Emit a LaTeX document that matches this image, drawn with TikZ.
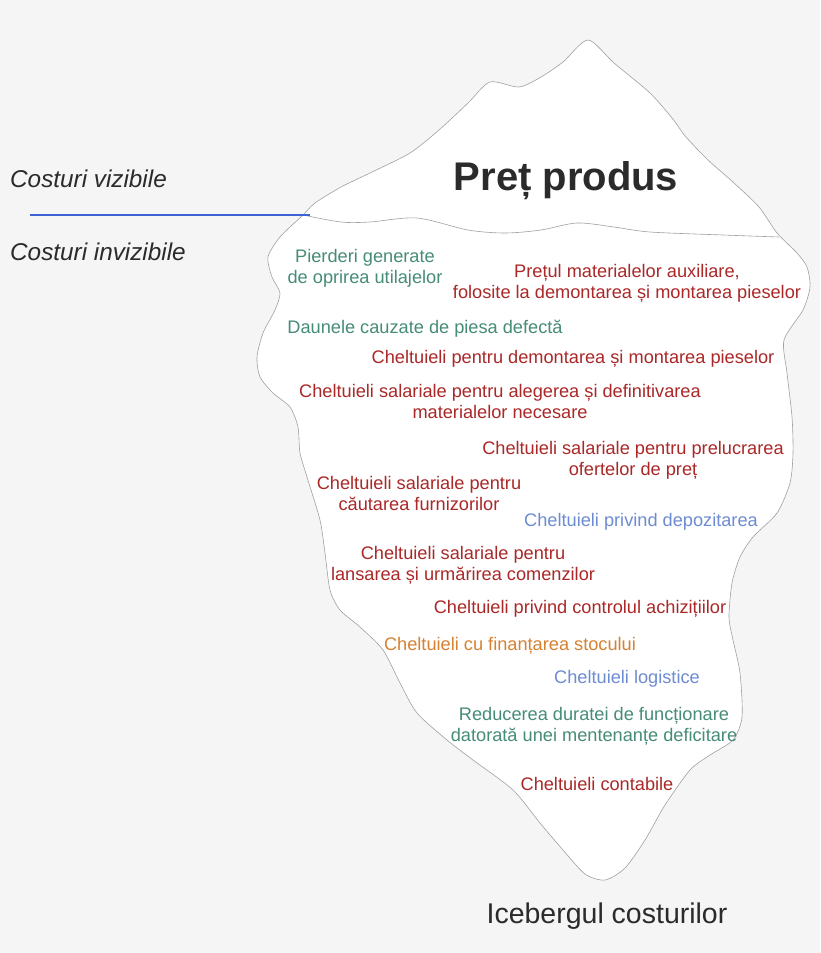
\documentclass[tikz,border=0pt]{standalone}
\usepackage{fontspec}
\setmainfont{Liberation Sans}
\usepackage{tikz}
\usetikzlibrary{positioning}

\definecolor{bg_gray}{HTML}{F5F5F5}
\definecolor{ice_line}{HTML}{A0A0A0}
\definecolor{sea_blue}{HTML}{3C64D2}
\definecolor{cost_red}{HTML}{AA2828}
\definecolor{cost_green}{HTML}{468C78}
\definecolor{cost_blue}{HTML}{6E8CD2}
\definecolor{cost_orange}{HTML}{D78232}
\definecolor{title_gray}{HTML}{2B2B2B}

\begin{document}
\begin{tikzpicture}[x=1pt, y=-1pt,
  cost/.style={align=center, anchor=base, inner sep=0pt, font=\fontsize{18.2}{20.3}\selectfont},
  red_cost/.style={cost, text=cost_red},
  green_cost/.style={cost, text=cost_green},
  blue_cost/.style={cost, text=cost_blue},
  orange_cost/.style={cost, text=cost_orange},
  side_label/.style={anchor=base west, inner sep=0pt, text=title_gray, font=\fontsize{24.3}{28}\selectfont\itshape}
]
  \fill[bg_gray] (0,0) rectangle (820,953);
  \useasboundingbox (0,0) rectangle (820,953);

  % iceberg
  \filldraw[fill=white, draw=ice_line, line width=0.6pt] plot[smooth cycle, tension=0.45] coordinates {
    (588,40) (614,63) (650,93) (672,118) (686,137) (708,160) (734,183) (759,207) (777,233)
    (797,253) (807,267) (810,287) (803,310) (784,340) (787,373) (792,417) (793,453) (790,483)
    (777,513) (753,537) (740,557) (732,583) (729,617) (733,640) (740,673) (742,717) (733,740)
    (710,755) (690,770) (665,805) (645,840) (625,868) (605,880) (585,874) (563,850) (540,823)
    (513,790) (473,760) (447,740) (417,713) (400,683) (383,650) (360,627) (340,610) (330,590)
    (325,553) (320,520) (307,477) (300,453) (298,427) (290,407) (273,393) (260,377) (257,357)
    (263,333) (275,310) (280,293) (272,277) (268,257) (280,237) (303,215)
    (315,203) (341,187) (370,173) (410,153) (439,130) (468,103) (490,82) (519,87) (541,77) (563,62)};
  % waterline
  \draw[ice_line, line width=0.6pt] plot[smooth, tension=0.5] coordinates {
    (303,215) (341,222) (370,222) (417,218) (468,230) (505,233) (541,230) (577,223)
    (614,227) (650,232) (723,235) (779,237)};

  \coordinate (water_start) at (30,215);
  \coordinate (water_end) at (310,215);
  \draw[sea_blue, line width=1.3pt] (water_start) -- (water_end);

  \node[side_label] (visible) at (10,187) {Costuri vizibile};
  \node[side_label] (invisible) at (10,260) {Costuri invizibile};

  \node[anchor=base, inner sep=0pt, text=title_gray, font=\fontsize{40}{44}\selectfont\bfseries] (pret_produs) at (566,190) {Preț produs};

  % two-line nodes sit on their last line
  \node[green_cost] (pierderi) at (365,283) {Pierderi generate\\de oprirea utilajelor};
  \node[red_cost] (pret_materiale) at (627,298) {Prețul materialelor auxiliare,\\folosite la demontarea și montarea pieselor};
  \node[green_cost] (daune) at (425,333) {Daunele cauzate de piesa defectă};
  \node[red_cost] (demontare) at (573,363) {Cheltuieli pentru demontarea și montarea pieselor};
  \node[red_cost] (alegere) at (500,418) {Cheltuieli salariale pentru alegerea și definitivarea\\materialelor necesare};
  \node[red_cost] (oferte) at (633,475) {Cheltuieli salariale pentru prelucrarea\\ofertelor de preț};
  \node[red_cost] (furnizori) at (419,510) {Cheltuieli salariale pentru\\căutarea furnizorilor};
  \node[blue_cost] (depozitare) at (641,526) {Cheltuieli privind depozitarea};
  \node[red_cost] (comenzi) at (463,580) {Cheltuieli salariale pentru\\lansarea și urmărirea comenzilor};
  \node[red_cost] (control) at (580,613) {Cheltuieli privind controlul achizițiilor};
  \node[orange_cost] (finantare) at (510,650) {Cheltuieli cu finanțarea stocului};
  \node[blue_cost] (logistice) at (627,683) {Cheltuieli logistice};
  \node[green_cost] (mentenanta) at (594,741) {Reducerea duratei de funcționare\\datorată unei mentenanțe deficitare};
  \node[red_cost] (contabile) at (597,790) {Cheltuieli contabile};

  \node[anchor=base, inner sep=0pt, text=title_gray, font=\fontsize{28.5}{32}\selectfont] (titlu) at (607,923) {Icebergul costurilor};
\end{tikzpicture}
\end{document}
